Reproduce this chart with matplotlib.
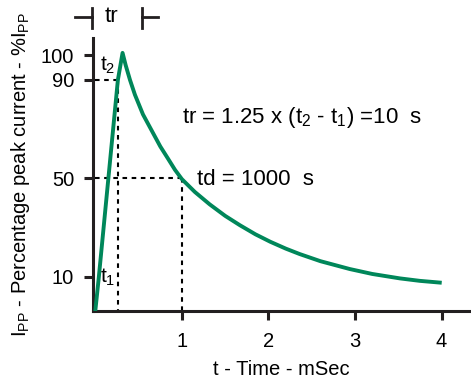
import matplotlib
matplotlib.use("Agg")
import matplotlib.pyplot as plt

plt.rcParams['font.family'] = ['Liberation Sans', 'DejaVu Sans']
plt.rcParams['mathtext.fontset'] = 'custom'
plt.rcParams['mathtext.rm'] = 'Liberation Sans'
plt.rcParams['mathtext.it'] = 'Liberation Sans'

# pulse shape (time in ms, % of peak current)
t = [0, 0.04, 0.26, 0.314, 0.35, 0.40, 0.457, 0.55, 0.65, 0.75, 0.84, 0.92, 1.0,
     1.15, 1.32, 1.5, 1.67, 1.85, 2.02, 2.2, 2.36, 2.6, 2.94, 3.2, 3.52, 3.75, 3.98]
ipp = [-3.5, 10, 90, 101, 96, 90, 84, 76, 69.5, 63, 58, 53.5, 49.7,
       44.5, 39.5, 34.8, 31, 27.3, 24.3, 21.5, 19.3, 16.4, 13.2, 11.2, 9.4, 8.4, 7.7]

t1, t2, td = 0.04, 0.26, 1.0
xticks = [1, 2, 3, 4]
yticks = [10, 50, 90, 100]

green = '#00875a'
ink = '#231f20'

fig = plt.figure(figsize=(4.71, 3.81), dpi=100)
ax = fig.add_axes([0.197, 0.184, 0.801, 0.716])

ax.plot(t, ipp, color=green, lw=2.8, solid_joinstyle='round', zorder=3)

# dashed guides for t2 (90 %) and td (50 %)
dash = dict(color='black', lw=1.5, ls=(0, (2.2, 2.2)))
ax.plot([0, t2], [90, 90], **dash)
ax.plot([t2, t2], [90, -3.8], **dash)
ax.plot([0, td], [50, 50], **dash)
ax.plot([td, td], [50, -3.8], **dash)

ax.set_xlim(-0.03, 4.33)
ax.set_ylim(-3.8, 107)
ax.set_xticks(xticks)
ax.set_yticks(yticks)
ax.tick_params(labelsize=14.5, width=2.2, length=6.5, color=ink, pad=7)
ax.tick_params(axis='x', pad=8.5)

for s in ['top', 'right']:
    ax.spines[s].set_visible(False)
for s in ['left', 'bottom']:
    ax.spines[s].set_linewidth(2.2)
    ax.spines[s].set_color(ink)

ax.set_xlabel('t - Time - mSec', fontsize=14.5, labelpad=7)
ax.set_ylabel(r'I$_\mathregular{PP}$ - Percentage peak current - %I$_\mathregular{PP}$',
              fontsize=14.5, labelpad=6)

ax.text(0.05, 96, r'$\mathregular{t_2}$', fontsize=15, va='center', ha='left')
ax.text(0.05, 10, r'$\mathregular{t_1}$', fontsize=15, va='center', ha='left')
ax.text(1.0, 74.6, r'tr = 1.25 x (t$_\mathregular{2}$ - t$_\mathregular{1}$) =10  s',
        fontsize=16, va='center', ha='left')
ax.text(1.17, 49.4, 'td = 1000  s', fontsize=16, va='center', ha='left')

# tr bracket above the axes
br = dict(color=ink, lw=2.0, clip_on=False)
ax.plot([-0.24, -0.04], [115.7, 115.7], **br)
ax.plot([-0.04, -0.04], [111.2, 119.3], **br)
ax.plot([0.538, 0.538], [111.2, 119.3], **br)
ax.plot([0.538, 0.723], [115.7, 115.7], **br)
ax.text(0.19, 115.7, 'tr', fontsize=16, va='center', ha='center')

fig.savefig('out.png', dpi=100)
